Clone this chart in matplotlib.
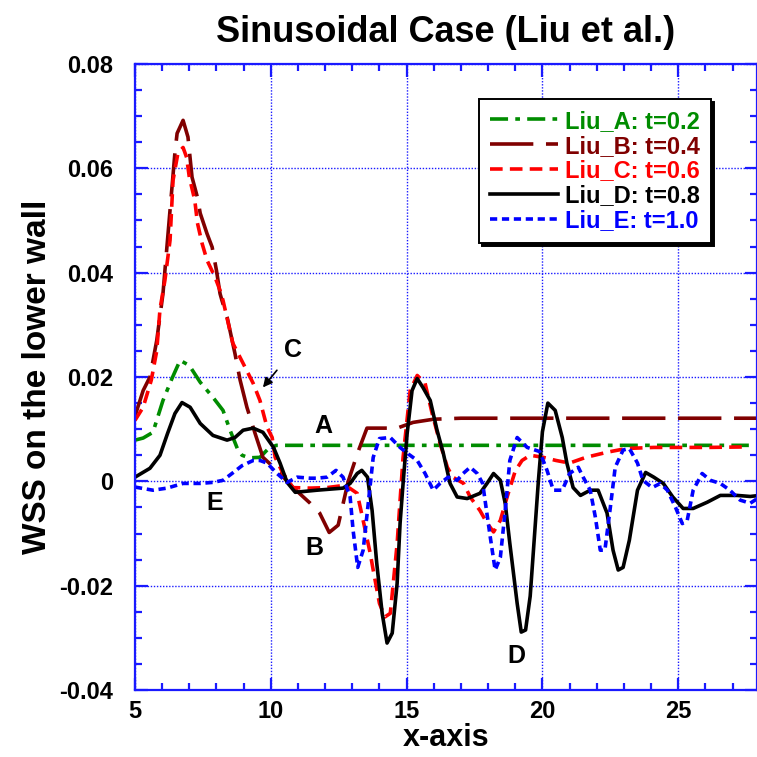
import matplotlib
matplotlib.use('Agg')
import matplotlib.pyplot as plt
from matplotlib.ticker import MultipleLocator, FixedLocator, FixedFormatter

plt.rcParams['font.family'] = ['Liberation Sans', 'DejaVu Sans']
plt.rcParams['font.weight'] = 'bold'

# WSS along the lower wall at five instants (Liu et al. sinusoidal case)
x_A = [5.0, 5.3, 5.66, 6.03, 6.36, 6.66, 7.0, 7.4, 7.87, 8.24, 8.5, 8.79, 8.94, 9.2, 9.6,
       9.9, 10.2, 12.0, 15.0, 20.0, 25.0, 27.6]
y_A = [0.0079, 0.0083, 0.0094, 0.0155, 0.0197, 0.0232, 0.0222, 0.019, 0.0161, 0.0136, 0.0098,
       0.006, 0.005, 0.0045, 0.0046, 0.0062, 0.0069, 0.0069, 0.0069, 0.0069, 0.0069, 0.0069]

x_B = [5.0, 5.3, 5.55, 5.8, 6.03, 6.29, 6.47, 6.55, 6.77, 6.95,
       7.1, 7.3, 7.4, 7.65, 7.84, 8.0, 8.13, 8.2, 8.39, 8.68,
       8.87, 9.12, 9.42, 9.71, 10.23, 10.82, 11.45, 11.8, 12.15, 12.48,
       12.85, 13.2, 13.54, 14.0, 14.65, 15.24, 15.98, 17.0, 20.0, 25.0, 28.0]
y_B = [0.0125, 0.0174, 0.02, 0.027, 0.036, 0.052, 0.063, 0.0667, 0.0692, 0.066,
       0.0583, 0.0544, 0.0514, 0.0475, 0.0449, 0.0404, 0.036, 0.0347, 0.0315, 0.0245,
       0.0194, 0.0142, 0.0092, 0.0046, 0.0021, -0.0012, -0.0042, -0.0061, -0.0098, -0.0084,
       0.0, 0.0055, 0.0102, 0.0102, 0.0102, 0.0113, 0.0119, 0.0121, 0.0121, 0.0121, 0.0121]

x_C = [5.0, 5.3, 5.6, 5.8, 5.92, 6.1, 6.29, 6.4, 6.58, 6.77,
       6.9, 7.0, 7.2, 7.3, 7.47, 7.65, 7.95, 8.13, 8.24, 8.6,
       9.05, 9.35, 9.6, 9.86, 10.05, 10.16, 10.45, 10.82, 11.45, 12.07,
       12.67, 12.9, 13.18, 13.4, 13.66, 13.77, 14.0, 14.2, 14.4, 14.65,
       14.76, 14.87, 15.13, 15.39, 15.68, 15.94, 16.23, 16.5, 16.7, 17.1,
       17.34, 17.7, 17.96, 18.2, 18.45, 18.7, 19.0, 19.25, 19.55, 20.03,
       20.5, 21.0, 21.6, 22.4, 23.1, 24.1, 25.07, 26.07, 27.6]
y_C = [0.0117, 0.0142, 0.0194, 0.025, 0.033, 0.0385, 0.0462, 0.0577, 0.0629, 0.064,
       0.0621, 0.0583, 0.0539, 0.0495, 0.0456, 0.0424, 0.0391, 0.0366, 0.0347, 0.0265,
       0.0219, 0.0188, 0.0155, 0.0104, 0.0084, 0.0046, 0.0015, -0.0012, -0.0013, -0.0012,
       -0.0008, -0.0013, -0.0023, -0.0075, -0.0138, -0.017, -0.0234, -0.026, -0.0253, -0.012,
       -0.0036, 0.0046, 0.0174, 0.0203, 0.0188, 0.013, 0.0073, 0.0027, 0.0008, -0.0004,
       -0.003, -0.0056, -0.008, -0.0097, -0.0075, -0.003, 0.002, 0.004, 0.005, 0.0046,
       0.004, 0.0035, 0.0046, 0.0056, 0.0063, 0.0065, 0.0065, 0.0065, 0.0066]

x_D = [5.0, 5.55, 5.92, 6.2, 6.47, 6.73, 7.03, 7.4, 7.87, 8.39,
       8.68, 8.98, 9.35, 9.71, 10.1, 10.34, 10.6, 10.9, 11.7, 12.66,
       12.92, 13.18, 13.35, 13.56, 13.73, 13.9, 14.1, 14.28, 14.47, 14.65,
       14.76, 14.87, 15.02, 15.2, 15.39, 15.6, 15.87, 16.12, 16.35, 16.6,
       16.86, 17.23, 17.7, 17.96, 18.2, 18.45, 18.63, 18.8, 19.07, 19.22,
       19.38, 19.55, 19.7, 19.85, 20.0, 20.2, 20.47, 20.73, 20.9, 21.13,
       21.4, 21.76, 22.05, 22.38, 22.6, 22.79, 22.97, 23.2, 23.5, 23.8,
       24.1, 24.45, 24.8, 25.18, 25.55, 26.07, 26.55, 27.17, 27.65, 28.0]
y_D = [0.0008, 0.0025, 0.005, 0.0092, 0.013, 0.0151, 0.0142, 0.0111, 0.0088, 0.0079,
       0.0084, 0.0098, 0.0102, 0.0094, 0.0065, 0.0035, -0.0002, -0.0021, -0.0017, -0.0013,
       -0.0004, 0.0015, 0.0021, 0.0008, -0.0056, -0.0157, -0.0253, -0.031, -0.0291, -0.0196,
       -0.008, -0.0004, 0.0092, 0.0174, 0.0197, 0.018, 0.0155, 0.0098, 0.0054, -0.0004,
       -0.003, -0.0033, -0.0023, -0.0004, 0.0015, 0.0002, -0.0042, -0.0119, -0.0234, -0.0289,
       -0.0285, -0.022, -0.011, 0.0, 0.0095, 0.015, 0.0136, 0.0084, 0.0035, -0.0012,
       -0.0027, -0.0017, -0.0017, -0.0061, -0.0132, -0.017, -0.0165, -0.0113, -0.0017, 0.0017,
       0.0008, -0.0004, -0.003, -0.0052, -0.0052, -0.004, -0.0027, -0.0027, -0.0029, -0.0027]

x_E = [5.0, 5.66, 6.18, 6.77, 7.4, 7.87, 8.24, 8.57, 8.94, 9.35,
       9.6, 9.86, 10.23, 10.6, 10.97, 11.45, 11.7, 12.07, 12.4, 12.66,
       12.92, 13.03, 13.2, 13.4, 13.6, 13.77, 14.0, 14.4, 14.76, 15.02,
       15.39, 15.68, 15.98, 16.23, 16.53, 16.86, 17.08, 17.34, 17.6, 17.8,
       18.08, 18.26, 18.45, 18.63, 18.8, 19.07, 19.44, 19.9, 20.17, 20.4,
       20.73, 21.0, 21.32, 21.5, 21.76, 21.95, 22.13, 22.3, 22.5, 22.68,
       22.97, 23.2, 23.5, 23.7, 24.04, 24.34, 24.6, 24.9, 25.15, 25.33,
       25.55, 25.88, 26.18, 26.55, 26.9, 27.28, 27.65, 28.0]
y_E = [-0.0011, -0.0017, -0.0013, -0.0004, -0.0004, -0.0002, 0.0002, 0.0015, 0.003, 0.004,
       0.004, 0.0035, 0.0015, -0.0002, 0.0008, 0.0006, 0.0006, 0.0008, 0.0021, 0.0008,
       -0.003, -0.0094, -0.0165, -0.0132, -0.0036, 0.0046, 0.0082, 0.0084, 0.0065, 0.0054,
       0.004, 0.0015, -0.0017, -0.0004, 0.0008, 0.0002, 0.0015, 0.0027, 0.0015, -0.0004,
       -0.0107, -0.017, -0.0146, -0.0056, 0.004, 0.0084, 0.0065, 0.0057, 0.0021, -0.0017,
       -0.0017, 0.0015, 0.0027, 0.0008, -0.0017, -0.0069, -0.0132, -0.0132, -0.005, 0.0027,
       0.006, 0.0063, 0.0035, 0.0002, -0.0012, -0.0004, -0.0017, -0.005, -0.0081, -0.0075,
       -0.0017, 0.0015, 0.0002, -0.0004, -0.0017, -0.0036, -0.0042, -0.003]

labels = ['Liu_A: t=0.2', 'Liu_B: t=0.4', 'Liu_C: t=0.6', 'Liu_D: t=0.8', 'Liu_E: t=1.0']
x_ticks = [5, 10, 15, 20, 25]
y_ticks = [-0.04, -0.02, 0.0, 0.02, 0.04, 0.06, 0.08]
y_ticklabels = ['-0.04', '-0.02', '0', '0.02', '0.04', '0.06', '0.08']

# curve tags: letter, x, y
tags = [('A', 11.92, 0.0107), ('B', 11.6, -0.0128), ('D', 19.03, -0.0334), ('E', 7.95, -0.0042)]

axis_blue = '#1a1aff'

fig = plt.figure(figsize=(7.57, 7.57), dpi=100)
ax = fig.add_axes([135 / 757, 1 - 690 / 757, 622 / 757, 626 / 757])

lw = 2.6
ax.plot(x_A, y_A, color='#008c00', lw=lw, dashes=(5, 2, 1.3, 2), label=labels[0])
ax.plot(x_B, y_B, color='#800000', lw=lw, dashes=(12, 3.5), label=labels[1])
ax.plot(x_C, y_C, color='#ff0000', lw=lw, dashes=(3.5, 2), label=labels[2])
ax.plot(x_D, y_D, color='black', lw=lw, label=labels[3])
ax.plot(x_E, y_E, color='#0000ff', lw=lw, dashes=(2, 1.3), label=labels[4])

ax.set_xlim(5, 27.9)
ax.set_ylim(-0.04, 0.08)

ax.xaxis.set_major_locator(FixedLocator(x_ticks))
ax.xaxis.set_minor_locator(MultipleLocator(1))
ax.yaxis.set_major_locator(FixedLocator(y_ticks))
ax.yaxis.set_major_formatter(FixedFormatter(y_ticklabels))
ax.yaxis.set_minor_locator(MultipleLocator(0.005))

ax.grid(True, which='major', color=axis_blue, linestyle=(0, (1, 1.2)), lw=1.0)
for s in ax.spines.values():
    s.set_color(axis_blue)
    s.set_linewidth(1.6)
ax.tick_params(which='both', direction='in', top=True, right=True, color=axis_blue, width=1.6)
ax.tick_params(which='major', length=9)
ax.tick_params(which='minor', length=5)
ax.tick_params(axis='y', labelsize=17, pad=16)
ax.tick_params(axis='x', labelsize=17, pad=7)

ax.set_title('Sinusoidal Case (Liu et al.)', fontsize=26, fontweight='bold', pad=16)
ax.set_xlabel('x-axis', fontsize=22, fontweight='bold', labelpad=0)
ax.set_ylabel('WSS on the lower wall', fontsize=24, fontweight='bold', labelpad=4)

for letter, tx, ty in tags:
    ax.text(tx, ty, letter, fontsize=18, fontweight='bold', ha='center', va='center')
ax.annotate('C', xy=(9.71, 0.018), xytext=(10.82, 0.0251), fontsize=18, fontweight='bold',
            ha='center', va='center',
            arrowprops=dict(arrowstyle='-|>', color='black', lw=1.2, mutation_scale=14,
                            shrinkA=5, shrinkB=0))

leg = ax.legend(loc='upper right', bbox_to_anchor=(0.926, 0.944), borderaxespad=0,
                fancybox=False, shadow={'color': 'black', 'alpha': 1}, framealpha=1,
                edgecolor='black', labelcolor='linecolor', handlelength=2.9,
                labelspacing=0.08, borderpad=0.45, handletextpad=0.3,
                prop={'weight': 'bold', 'size': 17})
leg.get_frame().set_linewidth(1.4)

fig.savefig('out.png', dpi=100)
